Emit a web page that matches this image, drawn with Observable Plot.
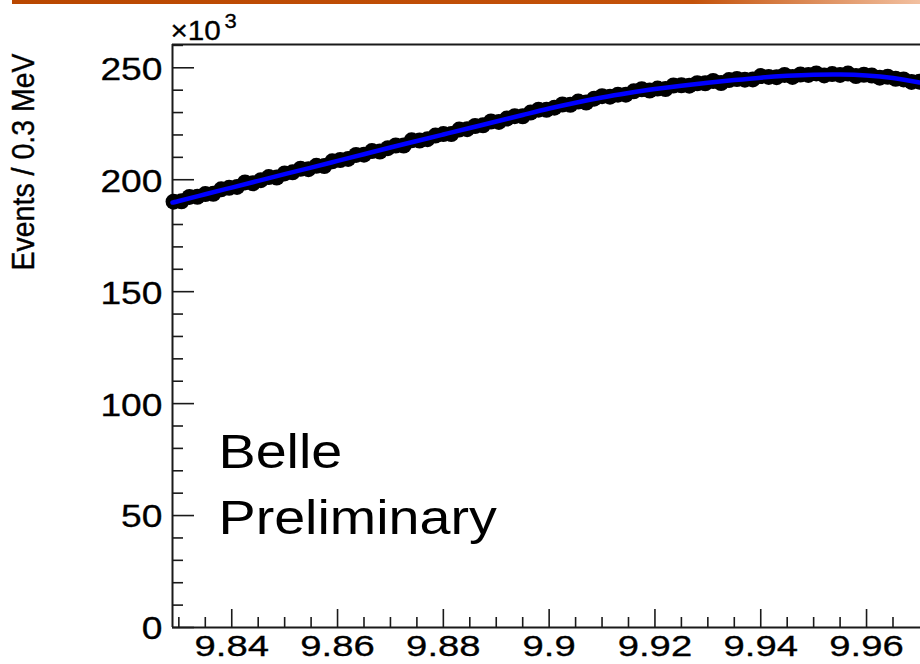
<!DOCTYPE html>
<html><head><meta charset="utf-8">
<script src="https://cdn.jsdelivr.net/npm/d3@7"></script>
<script src="https://cdn.jsdelivr.net/npm/@observablehq/plot@0.6"></script>
<style>
html,body{margin:0;padding:0;background:#fff;}
#wrap{position:relative;width:920px;height:664px;overflow:hidden;}
#bar{position:absolute;left:12px;top:0;width:908px;height:4px;background:linear-gradient(to right,#b94700,#c4520a 75%,#f2c0a0);z-index:2;}
svg{display:block;}
</style></head><body><div id="wrap"><div id="bar"></div></div>
<script>
// ---- data (events in units of 10^3 per 0.3 MeV) ----
const massBins = [
9.829, 9.8305, 9.832, 9.8335, 9.835, 9.8365, 9.838, 9.8395, 9.841, 9.8425,
9.844, 9.8455, 9.847, 9.8485, 9.85, 9.8515, 9.853, 9.8545, 9.856, 9.8575,
9.859, 9.8605, 9.862, 9.8635, 9.865, 9.8665, 9.868, 9.8695, 9.871, 9.8725,
9.874, 9.8755, 9.877, 9.8785, 9.88, 9.8815, 9.883, 9.8845, 9.886, 9.8875,
9.889, 9.8905, 9.892, 9.8935, 9.895, 9.8965, 9.898, 9.8995, 9.901, 9.9025,
9.904, 9.9055, 9.907, 9.9085, 9.91, 9.9115, 9.913, 9.9145, 9.916, 9.9175,
9.919, 9.9205, 9.922, 9.9235, 9.925, 9.9265, 9.928, 9.9295, 9.931, 9.9325,
9.934, 9.9355, 9.937, 9.9385, 9.94, 9.9415, 9.943, 9.9445, 9.946, 9.9475,
9.949, 9.9505, 9.952, 9.9535, 9.955, 9.9565, 9.958, 9.9595, 9.961, 9.9625,
9.964, 9.9655, 9.967, 9.9685, 9.97];
const eventsData = [
190.2, 190.4, 192.3, 192.4, 193.6, 193.7, 195.7, 196.4, 196.8, 198.8,
198.4, 199.8, 201.2, 201.0, 202.8, 203.3, 204.9, 204.7, 206.2, 206.1,
208.2, 208.8, 209.3, 211.1, 211.2, 212.8, 212.6, 214.1, 215.3, 215.3,
217.6, 217.5, 218.1, 219.7, 220.4, 220.4, 222.4, 222.6, 224.0, 224.3,
226.0, 225.8, 227.3, 228.4, 228.3, 230.0, 231.3, 231.2, 232.2, 233.6,
233.5, 234.9, 234.5, 236.2, 237.3, 237.1, 238.0, 238.0, 239.5, 240.4,
239.8, 240.7, 240.5, 242.1, 242.2, 242.0, 243.1, 243.1, 244.1, 243.2,
244.5, 245.0, 244.7, 244.8, 246.3, 245.9, 245.8, 246.8, 245.9, 247.0,
246.8, 247.5, 246.6, 247.2, 246.8, 247.4, 246.3, 246.9, 246.5, 245.6,
246.0, 245.1, 244.8, 243.7, 243.8];
const fitMass = [9.8288, 9.83, 9.835, 9.84, 9.845, 9.85, 9.855, 9.86, 9.865, 9.87,
  9.875, 9.88, 9.885, 9.89, 9.895, 9.9, 9.905, 9.91, 9.915, 9.92,
  9.925, 9.93, 9.935, 9.94, 9.945, 9.95, 9.955, 9.96, 9.965, 9.97];
const fitEvents = [189.8, 190.5, 193.5, 196.5, 199.5, 202.5, 205.4, 208.4, 211.4, 214.4,
  217.3, 220.2, 223.1, 226.0, 228.9, 231.8, 234.4, 236.7, 238.7, 240.5,
  242.0, 243.3, 244.5, 245.6, 246.4, 246.9, 247.0, 246.6, 245.4, 243.4];
const xDomain = [9.8288, 9.9702];
const yDomain = [0, 260.4];
const xTicks = [9.84, 9.86, 9.88, 9.9, 9.92, 9.94, 9.96];
const xTickLabels = ["9.84", "9.86", "9.88", "9.9", "9.92", "9.94", "9.96"];
const xMinorTicks = [9.83, 9.835, 9.845, 9.85, 9.855, 9.865, 9.87, 9.875, 9.885, 9.89, 9.895,
  9.905, 9.91, 9.915, 9.925, 9.93, 9.935, 9.945, 9.95, 9.955, 9.965];
const yTicks = [0, 50, 100, 150, 200, 250];
const yTickLabels = ["0", "50", "100", "150", "200", "250"];
const yMinorTicks = [10, 20, 30, 40, 60, 70, 80, 90, 110, 120, 130, 140, 160, 170, 180, 190,
  210, 220, 230, 240, 260];
const yTitle = "Events / 0.3 MeV";
const scaleText = "×10";
const scaleExp = "3";
const annotation = "Belle\nPreliminary";

const dataRows = massBins.map((m, i) => ({mass: m, events: eventsData[i]}));
const fitRows = fitMass.map((m, i) => ({mass: m, events: fitEvents[i]}));
const axisColor = "#1a1a1a";

const chart = Plot.plot({
  width: 920, height: 664,
  marginLeft: 172, marginRight: 0, marginTop: 44, marginBottom: 37,
  style: {fontFamily: "'Liberation Sans', Arial, Helvetica, sans-serif", color: "#000", background: "#fff", overflow: "visible"},
  x: {domain: xDomain},
  y: {domain: yDomain},
  marks: [
    // frame lines
    Plot.ruleX([xDomain[0]], {stroke: axisColor, strokeWidth: 2}),
    Plot.ruleY([yDomain[0]], {stroke: axisColor, strokeWidth: 2}),
    Plot.ruleY([yDomain[1]], {stroke: axisColor, strokeWidth: 2}),
    // inward ticks
    Plot.axisY(yTicks, {tickSize: -22, fill: "none", stroke: axisColor, strokeWidth: 1.6, label: null}),
    Plot.axisY(yMinorTicks, {tickSize: -11, fill: "none", stroke: axisColor, strokeWidth: 1.6, label: null}),
    Plot.axisX(xTicks, {tickSize: -18, fill: "none", stroke: axisColor, strokeWidth: 1.6, label: null}),
    Plot.axisX(xMinorTicks, {tickSize: -10, fill: "none", stroke: axisColor, strokeWidth: 1.6, label: null}),
    // tick labels
    Plot.axisY(yTicks, {tickSize: 0, tickPadding: 10, fontSize: 31, label: null, dy: 2,
      tickFormat: d => yTickLabels[yTicks.indexOf(d)]}),
    Plot.axisX(xTicks, {tickSize: 0, tickPadding: 8, fontSize: 29, label: null,
      tickFormat: d => xTickLabels[xTicks.indexOf(d)]}),
    // data and fit
    Plot.dot(dataRows, {x: "mass", y: "events", r: 8, fill: "#000", stroke: null}),
    Plot.line(fitRows, {x: "mass", y: "events", stroke: "#0000ff", strokeWidth: 4.5, curve: "natural"}),
    // texts
    Plot.text([yTitle], {frameAnchor: "top-left", rotate: -90, textAnchor: "end", lineAnchor: "bottom",
      dx: -139, dy: 9, fontSize: 28.5}),
    Plot.text([scaleText], {frameAnchor: "top-left", textAnchor: "start", lineAnchor: "bottom",
      dx: -2, dy: -5, fontSize: 27}),
    Plot.text([scaleExp], {frameAnchor: "top-left", textAnchor: "start", lineAnchor: "bottom",
      dx: 52, dy: -17, fontSize: 20}),
    Plot.text([annotation], {frameAnchor: "bottom-left", textAnchor: "start", lineAnchor: "bottom",
      lineHeight: 1.375, dx: 46, dy: -94, fontSize: 48})
  ]
});
document.getElementById("wrap").appendChild(chart);

// horizontally widen texts (the reference glyphs are wide)
for (const t of chart.querySelectorAll("text")) {
  const tr = t.getAttribute("transform") || "";
  const fs = parseFloat(getComputedStyle(t).fontSize);
  if (tr.includes("rotate")) {
    t.setAttribute("transform", `${tr} scale(1,1.12)`);
    t.style.stroke = "#000"; t.style.strokeWidth = "0.35px";
    continue;
  }
  const big = fs >= 40;
  const s = big ? 1.16 : fs < 28 ? 1.1 : fs < 30 ? 1.32 : 1.2;
  const b = t.getBBox();
  const anchor = getComputedStyle(t).textAnchor;
  const cx = anchor === "start" ? b.x : anchor === "end" ? b.x + b.width : b.x + b.width / 2;
  t.setAttribute("transform", `${tr} translate(${cx},0) scale(${s},1) translate(${-cx},0)`);
  if (!big) { t.style.stroke = "#000"; t.style.strokeWidth = "0.3px"; }
}
</script>
</body></html>
